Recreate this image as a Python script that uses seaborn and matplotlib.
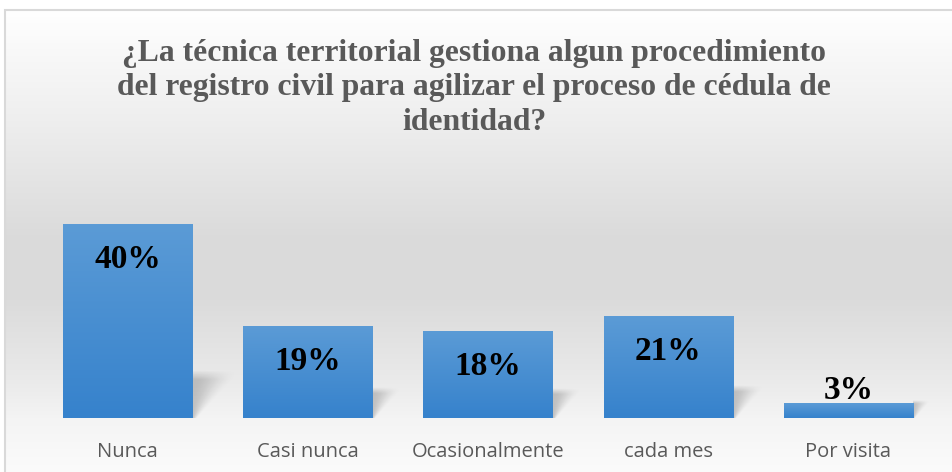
import numpy as np
import pandas as pd
import matplotlib
matplotlib.use("Agg")
import matplotlib.pyplot as plt
import seaborn as sns
from matplotlib.patches import Rectangle

# datos
categorias = ["Nunca", "Casi nunca", "Ocasionalmente", "cada mes", "Por visita"]
porcentajes = [40, 19, 18, 21, 3]
etiquetas = ["40%", "19%", "18%", "21%", "3%"]

titulo = ("¿La técnica territorial gestiona algun procedimiento\n"
          "del registro civil para agilizar el proceso de cédula de\n"
          "identidad?")

df = pd.DataFrame({"categoria": categorias, "porcentaje": porcentajes})

sns.set_theme(style="white")
plt.rcParams["font.family"] = ["Open Sans", "DejaVu Sans"]

W, H = 953, 472
fig = plt.figure(figsize=(W / 100, H / 100), dpi=100)

# fondo con degradado gris
bg = fig.add_axes([0, 0, 1, 1], zorder=0)
filas = np.arange(H)
col = np.interp(filas, [0, 10, 120, 240, 300, 380, 418, 472],
                [255, 255, 238, 218, 219, 234, 244, 251]) / 255
img = np.repeat(col[:, None], W, axis=1)
img[:10, :] = 1.0
img[:, :5] = 1.0
img = np.dstack([img, img, img])
bg.imshow(img, aspect="auto", extent=[0, 1, 0, 1], interpolation="bilinear")
bg.set_xlim(0, 1)
bg.set_ylim(0, 1)
bg.axis("off")
bg.add_patch(Rectangle((5 / W, -0.1), 1.2, 1 - 10 / H + 0.1, fill=False,
                       edgecolor="#d9d9d9", lw=1.5, clip_on=False))

# grafico de barras
ax = fig.add_axes([37.5 / W, 54 / H, 901 / W, 218.25 / H], zorder=1)
ax.patch.set_alpha(0)
sns.barplot(data=df, x="categoria", y="porcentaje", color="#4a8fd4",
            saturation=1, width=0.716, linewidth=0, ax=ax, zorder=3)

arriba = np.array([91, 155, 214]) / 255
abajo = np.array([54, 130, 204]) / 255
px_x = 180.25  # pixeles por categoria
px_y = 4.85    # pixeles por punto porcentual

for p in ax.patches:
    x0, w, h = p.get_x(), p.get_width(), p.get_height()
    # degradado de la barra
    g = np.linspace(0, 1, 64)[:, None]
    grad = arriba * (1 - g) + abajo * g
    im = ax.imshow(grad[:, None, :], extent=[x0, x0 + w, 0, h], aspect="auto",
                   interpolation="bilinear", zorder=4)
    im.set_clip_path(p)

    # sombra detras de la barra (suave)
    sh_px = 15 + 0.17 * h * px_y
    sw_px = sh_px * 1.1
    n = 80
    uu, tt = np.meshgrid(np.linspace(0, 1, n), np.linspace(1, 0, n))
    ancho = 0.1 + 0.9 * tt
    d = np.clip(1 - uu / ancho, 0, 1)
    d = d * d * (3 - 2 * d)
    alpha = 0.2 * d * np.clip((1 - tt) / 0.2, 0, 1)
    sombra = np.zeros((n, n, 4))
    sombra[..., 3] = alpha
    ax.imshow(sombra, extent=[x0 + w, x0 + w + sw_px / px_x, 0, sh_px / px_y],
              aspect="auto", interpolation="bilinear", zorder=2)

ax.set_xlim(-0.5, len(categorias) - 0.5)
ax.set_ylim(0, 45)

for p, txt in zip(ax.patches, etiquetas):
    cx = p.get_x() + p.get_width() / 2
    h = p.get_height()
    off = -31.7 if h > 8 else 2.9
    ax.annotate(txt, xy=(cx, h), xytext=(0, off), textcoords="offset points",
                ha="center", va="baseline", fontsize=24, fontweight="bold",
                family="Liberation Serif", color="black", zorder=6)

ax.set_xlabel("")
ax.set_ylabel("")
ax.set_yticks([])
ax.tick_params(axis="x", length=0, pad=17, labelsize=14.5, labelcolor="#595959")
for s in ax.spines.values():
    s.set_visible(False)

fig.text(474 / W, 1 - 88 / H, titulo, ha="center", va="center", fontsize=22.8,
         fontweight="bold", family="Liberation Serif", color="#595959",
         linespacing=1.24)

fig.savefig("out.png", dpi=100)
